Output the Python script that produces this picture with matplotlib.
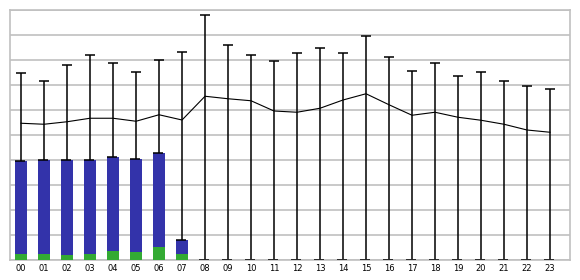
import matplotlib
matplotlib.use("Agg")
import matplotlib.pyplot as plt
import numpy as np

hours = ["%02d" % h for h in range(24)]

# stacked bars: total height and green part (only first hours have data)
bar_total = [39.6, 40.0, 40.0, 40.1, 41.2, 40.5, 42.9, 8.1] + [0] * 16
bar_green = [2.4, 2.4, 2.0, 2.4, 3.6, 3.2, 5.2, 2.4] + [0] * 16

# mean line and upper whisker
mean_line = [54.7, 54.3, 55.3, 56.7, 56.7, 55.5, 58.1, 56.0,
             65.5, 64.5, 63.7, 59.6, 59.1, 60.7, 64.0, 66.5,
             62.1, 57.9, 59.1, 57.1, 55.9, 54.3, 52.0, 51.1]
whisker_top = [74.7, 71.5, 77.9, 81.9, 78.7, 75.1, 79.9, 83.1,
               98.0, 86.0, 81.9, 79.5, 82.7, 84.7, 82.7, 89.6,
               81.3, 75.5, 78.7, 73.5, 75.1, 71.5, 69.5, 68.3]

x = np.arange(len(hours))
bar_w = 0.52
blue_part = np.array(bar_total) - np.array(bar_green)

fig = plt.figure(figsize=(5.8, 2.8), dpi=100)
ax = fig.add_axes([10 / 580, 20 / 280, 560 / 580, 250 / 280])

ax.set_xlim(-0.48, 23.87)
ax.set_ylim(0, 100)

# grid
ax.set_yticks(np.arange(0, 101, 10))
ax.yaxis.grid(True, color="#c0c0c0", linewidth=1.2)
ax.set_axisbelow(True)
ax.tick_params(axis="y", left=False, labelleft=False)
for s in ax.spines.values():
    s.set_color("#c0c0c0")
    s.set_linewidth(1.2)

# whiskers from 0 to top with a cap
ax.vlines(x, 0, whisker_top, color="black", linewidth=1.1, zorder=2)
ax.hlines(whisker_top, x - 0.2, x + 0.2, color="black", linewidth=1.1, zorder=2)

# bars
ax.bar(x, bar_green, width=bar_w, color="#33aa33", zorder=3)
ax.bar(x, blue_part, width=bar_w, bottom=bar_green, color="#3333aa", zorder=3)
ax.hlines(bar_total, x - bar_w / 2, x + bar_w / 2 - 0.1, color="black",
          linewidth=1.1, zorder=4)

# mean line
ax.plot(x, mean_line, color="black", linewidth=0.8, zorder=5)

ax.set_xticks(x)
ax.set_xticklabels(hours, fontsize=6, family="DejaVu Sans")
ax.tick_params(axis="x", length=0, pad=3)

fig.savefig("out.png", dpi=100)
